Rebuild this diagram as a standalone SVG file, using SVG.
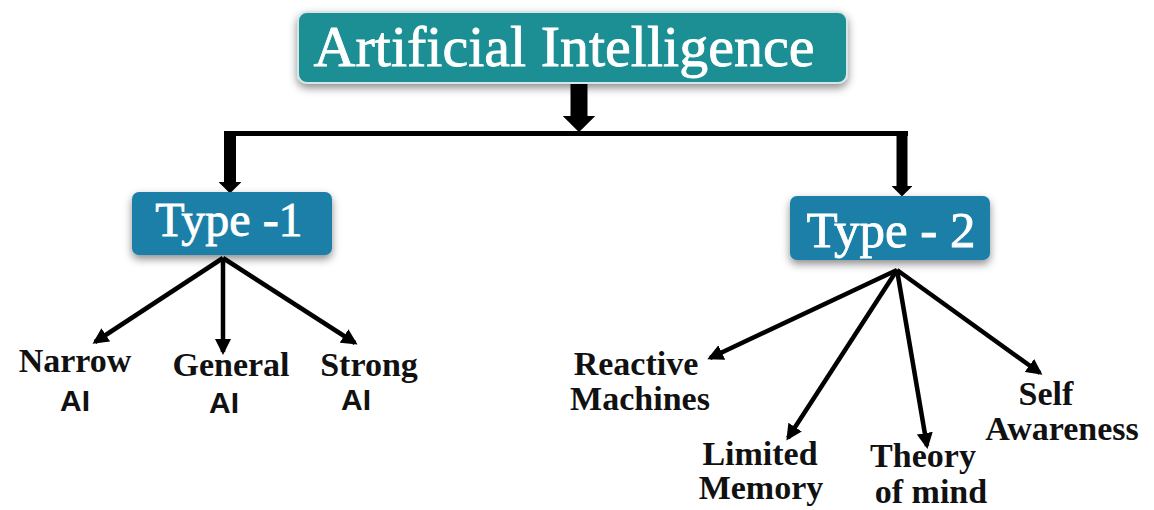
<svg xmlns="http://www.w3.org/2000/svg" width="1154" height="510" viewBox="0 0 1154 510">
<style>
.lbl{font-family:"Liberation Serif",serif;font-weight:bold;font-size:34px;fill:#111;text-anchor:middle}
.ai{font-family:"Liberation Sans",sans-serif;font-weight:bold;font-size:30px;fill:#111;text-anchor:middle}
.ttl{font-family:"Liberation Serif",serif;fill:#fff;text-anchor:middle;stroke:#fff;stroke-width:0.8}
.thick{stroke:#000;fill:none;marker-end:url(#big)}
.thin{stroke:#000;stroke-width:4.5;fill:none;marker-end:url(#small)}
</style>
<defs>
<marker id="big" markerUnits="strokeWidth" viewBox="0 0 10 20" markerWidth="0.95" markerHeight="1.9" refX="0" refY="10" orient="auto"><path d="M0,0 L10,10 L0,20 z" fill="#000"/></marker>
<marker id="small" markerUnits="userSpaceOnUse" viewBox="0 0 16 16" markerWidth="16" markerHeight="16" refX="13" refY="8" orient="auto"><path d="M0,0 L16,8 L0,16 z" fill="#000"/></marker>
<filter id="sh" x="-20%" y="-30%" width="140%" height="170%"><feDropShadow dx="0" dy="4" stdDeviation="4" flood-color="#000" flood-opacity="0.45"/></filter>
</defs>
<rect width="1154" height="510" fill="#fff"/>
<g id="connectors">
<line class="thick" x1="579" y1="83" x2="579" y2="116" stroke-width="17"/>
<line x1="228" y1="133.5" x2="908" y2="133.5" stroke="#000" stroke-width="5"/>
<line class="thick" x1="230" y1="131" x2="230" y2="182" stroke-width="12"/>
<line class="thick" x1="902" y1="131" x2="902" y2="186" stroke-width="11"/>
<line class="thin" x1="223" y1="258" x2="95" y2="342"/>
<line class="thin" x1="223" y1="258" x2="223" y2="352"/>
<line class="thin" x1="223" y1="258" x2="355" y2="343"/>
<line class="thin" x1="897" y1="270" x2="710" y2="358"/>
<line class="thin" x1="897" y1="270" x2="788" y2="438"/>
<line class="thin" x1="897" y1="270" x2="927" y2="446"/>
<line class="thin" x1="897" y1="270" x2="1040" y2="373"/>
</g>
<g id="ai-root">
<rect x="298" y="12" width="549" height="71" rx="9" fill="#1b8f95" stroke="#d6e6e6" stroke-width="2" filter="url(#sh)"/>
<text class="ttl" x="564" y="66" font-size="58">Artificial Intelligence</text>
</g>
<g id="type1">
<rect x="132" y="192" width="200" height="63" rx="7" fill="#1a7fa7" filter="url(#sh)"/>
<text class="ttl" x="229" y="236" font-size="48">Type -1</text>
</g>
<g id="type2">
<rect x="790" y="196" width="200" height="64" rx="7" fill="#1a7fa7" filter="url(#sh)"/>
<text class="ttl" x="891" y="247" font-size="51">Type - 2</text>
</g>
<g id="narrow"><text class="lbl" x="75" y="372">Narrow</text><text class="ai" x="75" y="411">AI</text></g>
<g id="general"><text class="lbl" x="231" y="376">General</text><text class="ai" x="224" y="413">AI</text></g>
<g id="strong"><text class="lbl" x="369" y="376">Strong</text><text class="ai" x="356" y="410">AI</text></g>
<g id="reactive"><text class="lbl" x="636" y="375">Reactive</text><text class="lbl" x="640" y="410">Machines</text></g>
<g id="limited"><text class="lbl" x="760" y="465">Limited</text><text class="lbl" x="761" y="499">Memory</text></g>
<g id="theory"><text class="lbl" x="923" y="467" font-size="32">Theory</text><text class="lbl" x="931" y="503" font-size="32">of mind</text></g>
<g id="self"><text class="lbl" x="1046" y="405">Self</text><text class="lbl" x="1062" y="440">Awareness</text></g>
</svg>
